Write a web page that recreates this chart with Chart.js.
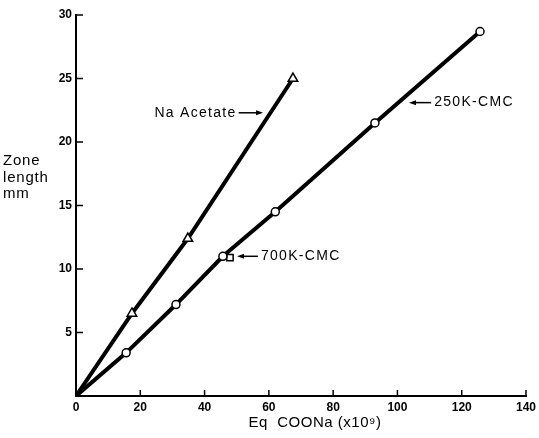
<!DOCTYPE html>
<html>
<head>
<meta charset="utf-8">
<script src="https://cdn.jsdelivr.net/npm/chart.js@4.4.1/dist/chart.umd.min.js"></script>
<style>
  html, body { margin: 0; padding: 0; background: #fff; }
</style>
</head>
<body>
<canvas id="chart" width="539" height="438"></canvas>
<script>
// values
const acetateX = [0, 17.4, 34.8, 67.5];
const acetateY = [0, 6.5, 12.4, 25.0];
const cmc250X = [0, 15.6, 31.1, 45.7, 62.0, 93.0, 125.7];
const cmc250Y = [0, 3.4, 7.2, 11.0, 14.5, 21.5, 28.7];
const cmc700X = [47.9];
const cmc700Y = [10.9];

const xTicks = [0, 20, 40, 60, 80, 100, 120, 140];
const yTicks = [5, 10, 15, 20, 25, 30];

// labels with arrows, in data units: [text, tailX, tipX, y, side]
const notes = [
  ['Na Acetate', 50.6, 58.2, 22.3, 'left'],
  ['250K-CMC', 110.5, 103.6, 23.1, 'right'],
  ['700K-CMC', 56.6, 50.1, 11.0, 'right'],
];

const toPts = (xs, ys) => xs.map((x, i) => ({ x: x, y: ys[i] }));

const tickFont = { family: 'Liberation Sans', size: 12, weight: 'bold' };

const decor = {
  id: 'decor',
  beforeDatasetsDraw(chart) {
    const { ctx, chartArea, scales } = chart;
    ctx.save();
    ctx.strokeStyle = '#000';
    ctx.lineWidth = 1.5;
    ctx.beginPath();
    xTicks.forEach(v => {
      if (v === 0) return;
      const px = scales.x.getPixelForValue(v);
      ctx.moveTo(px, chartArea.bottom);
      ctx.lineTo(px, chartArea.bottom - 6);
    });
    yTicks.forEach(v => {
      const py = scales.y.getPixelForValue(v);
      ctx.moveTo(chartArea.left, py);
      ctx.lineTo(chartArea.left + 7, py);
    });
    ctx.stroke();
    ctx.restore();
  },
  afterDraw(chart) {
    const { ctx, scales } = chart;
    ctx.save();
    ctx.fillStyle = '#000';
    ctx.strokeStyle = '#000';
    ctx.textBaseline = 'middle';

    // y title, horizontal, three lines
    ctx.font = '15px "Liberation Sans"';
    ctx.letterSpacing = '0.8px';
    ctx.textAlign = 'left';
    ['Zone', 'length', 'mm'].forEach((t, i) => ctx.fillText(t, 3, 161 + i * 16.5));

    // x title
    ctx.letterSpacing = '0.5px';
    ctx.textAlign = 'center';
    ctx.fillText('Eq  COONa (x10\u2079)', 315, 423);

    // annotations
    ctx.font = '14px "Liberation Sans"';
    ctx.letterSpacing = '1.3px';
    notes.forEach(([text, tailX, tipX, y, side]) => {
      const x0 = scales.x.getPixelForValue(tailX);
      const x1 = scales.x.getPixelForValue(tipX);
      const py = scales.y.getPixelForValue(y);
      const dir = Math.sign(x1 - x0);
      ctx.lineWidth = 1.5;
      ctx.beginPath();
      ctx.moveTo(x0, py);
      ctx.lineTo(x1 - dir * 4, py);
      ctx.stroke();
      ctx.beginPath();
      ctx.moveTo(x1, py);
      ctx.lineTo(x1 - dir * 7, py - 2.5);
      ctx.lineTo(x1 - dir * 7, py + 2.5);
      ctx.closePath();
      ctx.fill();
      if (side === 'left') {
        ctx.textAlign = 'right';
        ctx.fillText(text, x0 - 2, py);
      } else {
        ctx.textAlign = 'left';
        ctx.fillText(text, x0 + 3, py);
      }
    });
    ctx.restore();
  }
};

new Chart(document.getElementById('chart'), {
  type: 'scatter',
  data: {
    datasets: [
      {
        label: 'Na Acetate',
        data: toPts(acetateX, acetateY),
        showLine: true,
        borderColor: '#000',
        borderWidth: 4,
        pointStyle: 'triangle',
        pointRadius: acetateX.map(x => x === 0 ? 0 : 5.5),
        pointBackgroundColor: '#fff',
        pointBorderColor: '#000',
        pointBorderWidth: 1.5,
      },
      {
        label: '250K-CMC',
        data: toPts(cmc250X, cmc250Y),
        showLine: true,
        borderColor: '#000',
        borderWidth: 4,
        pointStyle: 'circle',
        pointRadius: cmc250X.map(x => x === 0 ? 0 : 4),
        pointBackgroundColor: '#fff',
        pointBorderColor: '#000',
        pointBorderWidth: 1.5,
      },
      {
        label: '700K-CMC',
        data: toPts(cmc700X, cmc700Y),
        showLine: false,
        pointStyle: 'rect',
        pointRadius: 4.5,
        pointBackgroundColor: '#fff',
        pointBorderColor: '#000',
        pointBorderWidth: 1.5,
      },
    ],
  },
  options: {
    responsive: false,
    animation: false,
    events: [],
    layout: { padding: { top: 15, right: 13, left: 0, bottom: 0 } },
    plugins: { legend: { display: false }, tooltip: { enabled: false } },
    scales: {
      x: {
        type: 'linear',
        min: 0,
        max: 140,
        afterFit: s => { s.height = 42; s.paddingLeft = 0; s.paddingRight = 0; },
        afterBuildTicks: s => { s.ticks = xTicks.map(v => ({ value: v })); },
        ticks: { color: '#000', font: tickFont, padding: 4, maxRotation: 0 },
        grid: { drawOnChartArea: false, drawTicks: false },
        border: { display: true, color: '#000', width: 2 },
      },
      y: {
        type: 'linear',
        min: 0,
        max: 30,
        afterFit: s => { s.width = 76; s.paddingTop = 0; s.paddingBottom = 0; },
        afterBuildTicks: s => { s.ticks = yTicks.map(v => ({ value: v })); },
        ticks: { color: '#000', font: tickFont, padding: 4 },
        grid: { drawOnChartArea: false, drawTicks: false },
        border: { display: true, color: '#000', width: 2 },
      },
    },
  },
  plugins: [decor],
});
</script>
</body>
</html>
